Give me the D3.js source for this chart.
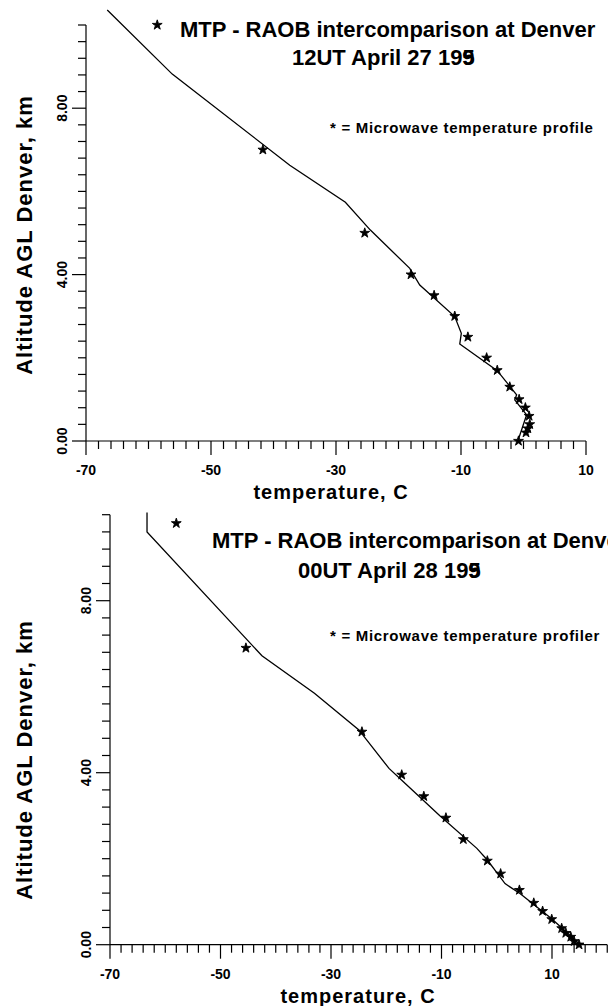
<!DOCTYPE html>
<html><head><meta charset="utf-8">
<script src="https://cdn.jsdelivr.net/npm/d3@7"></script>
<style>
body{margin:0;background:#fff}
svg{display:block}
text{font-family:"Liberation Sans",Arial,sans-serif;font-weight:bold;fill:#000}
</style>
</head><body>
<svg id="c" width="608" height="1006"></svg>
<script>
// ---- data ----
const xTickValues = [-70, -50, -30, -10, 10];
const xTickLabels = ["-70", "-50", "-30", "-10", "10"];
const yTickValues = [0, 4, 8];
const yTickLabels = ["0.00", "4.00", "8.00"];

// Panel 1: 12UT April 27 (RAOB line, MTP stars)
const raob1Temp = [-66.6, -56.2, -37.4, -28.5, -24.5, -18.2, -16.6, -11.0, -9.95, -10.2, -4.2, -1.1, -1.4, 0.5, -0.9];
const raob1Alt  = [10.36, 8.82, 6.63, 5.74, 5.07, 4.15, 3.75, 2.99, 2.59, 2.33, 1.69, 1.11, 0.99, 0.63, 0.0];
const mtp1Temp  = [-58.6, -41.7, -25.4, -18.0, -14.3, -11.0, -8.9, -5.9, -4.2, -2.2, -0.7, 0.3, 0.9, 1.0, 0.7, 0.4, -0.8];
const mtp1Alt   = [10.0, 7.0, 5.0, 4.0, 3.5, 3.0, 2.5, 2.0, 1.7, 1.3, 1.0, 0.8, 0.6, 0.4, 0.3, 0.2, 0.0];

// Panel 2: 00UT April 28
const raob2Temp = [-63.3, -63.3, -42.5, -33.0, -25.0, -19.5, -17.0, -10.3, -3.6, -1.7, 1.5, 4.2, 10.0, 15.1];
const raob2Alt  = [10.05, 9.6, 6.72, 5.85, 5.0, 4.1, 3.8, 3.0, 2.24, 1.97, 1.42, 1.19, 0.6, 0.0];
const mtp2Temp  = [-58.0, -45.4, -24.4, -17.2, -13.2, -9.2, -6.05, -1.7, 0.7, 4.1, 6.7, 8.3, 9.95, 11.75, 12.5, 13.4, 14.0, 14.9];
const mtp2Alt   = [9.8, 6.9, 4.95, 3.95, 3.45, 2.95, 2.45, 1.95, 1.65, 1.27, 0.97, 0.78, 0.59, 0.38, 0.27, 0.18, 0.08, 0.0];

const titles1 = ["MTP - RAOB intercomparison at Denver", "12UT April 27 199"];
const titles2 = ["MTP - RAOB intercomparison at Denver", "00UT April 28 199"];
const note1 = "* = Microwave temperature profile";
const note2 = "* = Microwave temperature profiler";
const xTitle = "temperature, C";
const yTitle = "Altitude AGL Denver, km";

// ---- drawing ----
const svg = d3.select("#c");

function panel(cfg) {
  const x = d3.scaleLinear().domain(cfg.xDomain).range(cfg.xRange);
  const y = d3.scaleLinear().domain([0, 10]).range(cfg.yRange);
  const g = svg.append("g");

  g.append("line").attr("x1", x(-70)).attr("x2", x(cfg.xDomain[1]))
    .attr("y1", y(0)).attr("y2", y(0)).attr("stroke", "#000").attr("stroke-width", 1.2);
  g.append("line").attr("x1", x(-70)).attr("x2", x(-70))
    .attr("y1", y(0)).attr("y2", y(10)).attr("stroke", "#000").attr("stroke-width", 1.2);

  const xt = d3.range(0, Math.round((cfg.xDomain[1] + 70) / 2) + 1).map(i => -70 + 2 * i);
  g.selectAll(".xt").data(xt).join("line")
    .attr("x1", d => x(d)).attr("x2", d => x(d))
    .attr("y1", y(0)).attr("y2", d => y(0) + (((d + 70) % 20 === 0) ? 14 : 8))
    .attr("stroke", "#000").attr("stroke-width", 1.2);
  const yt = d3.range(0, 26);
  g.selectAll(".yt").data(yt).join("line")
    .attr("y1", i => y(i * 0.4)).attr("y2", i => y(i * 0.4))
    .attr("x1", x(-70)).attr("x2", i => x(-70) - ((i % 10 === 0) ? 14 : 8))
    .attr("stroke", "#000").attr("stroke-width", 1.2);

  g.selectAll(".xl").data(xTickValues).join("text")
    .attr("x", d => x(d)).attr("y", y(0) + 34)
    .attr("text-anchor", "middle").attr("font-size", 14)
    .text((d, i) => xTickLabels[i]);
  g.selectAll(".yl").data(yTickValues).join("text")
    .attr("transform", d => `translate(${x(-70) - 19},${y(d)}) rotate(-90)`)
    .attr("text-anchor", "middle").attr("font-size", 14)
    .text((d, i) => yTickLabels[i]);

  g.append("text").attr("x", cfg.xTitleX).attr("y", cfg.xTitleY)
    .attr("text-anchor", "middle").attr("font-size", 20).attr("letter-spacing", 1)
    .text(xTitle);
  g.append("text").attr("transform", `translate(32,${cfg.yTitleY}) rotate(-90)`)
    .attr("text-anchor", "middle").attr("font-size", 22).attr("letter-spacing", 1)
    .text(yTitle);

  const pts = cfg.lt.map((t, i) => [t, cfg.la[i]]);
  g.append("path").datum(pts)
    .attr("d", d3.line().x(d => x(d[0])).y(d => y(d[1])))
    .attr("fill", "none").attr("stroke", "#000").attr("stroke-width", 1.3);

  const star = d3.symbol().type(d3.symbolStar).size(30);
  g.selectAll(".st").data(cfg.mt.map((t, i) => [t, cfg.ma[i]])).join("path")
    .attr("transform", d => `translate(${x(d[0])},${y(d[1])})`)
    .attr("d", star).attr("fill", "#000").attr("stroke", "#000").attr("stroke-width", 0.9);

  g.append("text").attr("x", cfg.t1x).attr("y", cfg.t1y).attr("font-size", 22).text(cfg.titles[0]);
  const t2 = g.append("text").attr("x", cfg.t2x).attr("y", cfg.t2y).attr("font-size", 22).text(cfg.titles[1]);
  const n = cfg.titles[1].length;
  const pre = t2.node().getSubStringLength(0, n - 1);
  g.append("text").attr("x", cfg.t2x + pre).attr("y", cfg.t2y).attr("font-size", 22).text("5");

  g.append("text").attr("x", 330).attr("y", cfg.noteY).attr("font-size", 15)
    .attr("letter-spacing", 0.7).text(cfg.note);
}

panel({
  xDomain: [-70, 10], xRange: [86, 586], yRange: [441, 25],
  lt: raob1Temp, la: raob1Alt, mt: mtp1Temp, ma: mtp1Alt,
  titles: titles1, t1x: 180, t1y: 37, t2x: 292, t2y: 65,
  note: note1, noteY: 133,
  xTitleX: 331, xTitleY: 499, yTitleY: 235
});
panel({
  xDomain: [-70, 20], xRange: [110, 607.25], yRange: [944.7, 514.7],
  lt: raob2Temp, la: raob2Alt, mt: mtp2Temp, ma: mtp2Alt,
  titles: titles2, t1x: 212, t1y: 548, t2x: 298, t2y: 578,
  note: note2, noteY: 641,
  xTitleX: 358, xTitleY: 1003, yTitleY: 760
});
</script>
</body></html>
